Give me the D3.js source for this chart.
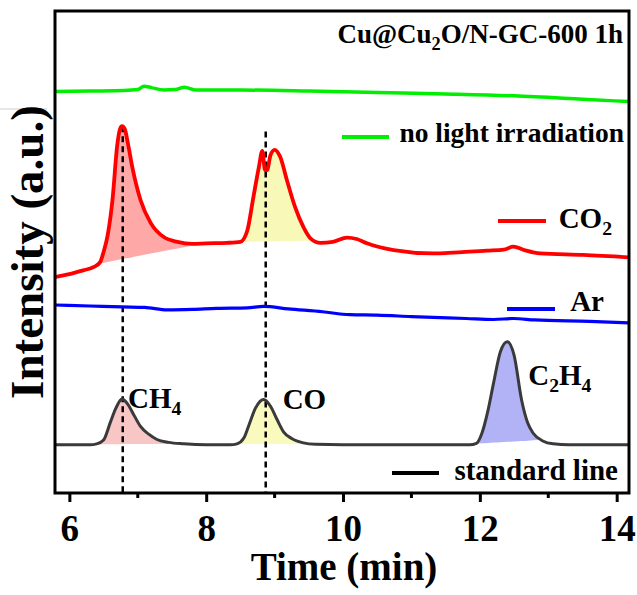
<!DOCTYPE html>
<html>
<head>
<meta charset="utf-8">
<script src="https://cdn.jsdelivr.net/npm/d3@7"></script>
<style>
  body { margin: 0; background: #fff; }
  svg { display: block; }
  text { font-family: "Liberation Serif", "Times New Roman", serif; font-weight: bold; fill: #000; }
</style>
</head>
<body>
<script>
// GC traces, [time (min), intensity (a.u.)]
const noLight = [[5.79, 83.3], [6.3, 83.4], [6.8, 83.5], [7.0, 83.7], [7.09, 84.4], [7.2, 84.1], [7.38, 83.6],
  [7.55, 83.7], [7.68, 84.2], [7.85, 83.6], [8.5, 83.6], [9.5, 83.4], [10.5, 83.1], [11.5, 82.8],
  [12.5, 82.4], [13.5, 81.7], [14.18, 81.2]];

const co2 = [[5.79, 44.8], [6.0, 45.4], [6.2, 46.2], [6.36, 46.9], [6.45, 47.9], [6.5, 50.0], [6.56, 53.5],
  [6.63, 60.8], [6.7, 72.2], [6.74, 75.5], [6.77, 76.1], [6.81, 75.5], [6.86, 72.2], [6.92, 67.6],
  [7.04, 60.8], [7.19, 56.0], [7.38, 53.1], [7.58, 52.1], [7.8, 51.7], [8.0, 51.8], [8.3, 51.9],
  [8.5, 52.1], [8.6, 54.4], [8.69, 61.4], [8.77, 67.6], [8.82, 71.0], [8.86, 67.0], [8.89, 67.0],
  [8.94, 70.1], [9.0, 71.2], [9.08, 69.8], [9.18, 64.9], [9.3, 59.3], [9.42, 55.2], [9.52, 52.9],
  [9.67, 51.9], [9.85, 52.1], [10.06, 53.0], [10.2, 52.7], [10.35, 51.8], [10.74, 50.4], [11.32, 49.7],
  [12.1, 50.3], [12.35, 50.5], [12.49, 51.1], [12.65, 50.4], [12.88, 49.7], [13.51, 49.4], [14.18, 48.9]];

const ar = [[5.79, 39.0], [6.3, 38.8], [6.77, 38.6], [7.1, 38.5], [7.43, 38.0], [7.8, 38.1], [8.15, 38.3],
  [8.6, 38.4], [8.84, 38.7], [9.2, 38.2], [9.7, 37.6], [10.1, 37.0], [10.5, 36.9], [11.0, 36.6],
  [11.8, 36.2], [12.2, 36.0], [12.49, 36.2], [12.8, 35.9], [13.6, 35.6], [14.18, 35.3]];

const standard = [[5.79, 10.0], [6.3, 10.0], [6.4, 10.2], [6.5, 11.0], [6.6, 14.7], [6.68, 17.6], [6.77, 19.5],
  [6.86, 18.3], [6.95, 16.0], [7.04, 13.8], [7.16, 12.2], [7.28, 11.1], [7.45, 10.5], [7.67, 10.2],
  [8.0, 10.0], [8.35, 10.0], [8.45, 10.2], [8.55, 11.4], [8.62, 13.9], [8.72, 17.6], [8.84, 19.4],
  [8.94, 18.0], [9.03, 15.4], [9.13, 12.7], [9.25, 11.3], [9.42, 10.4], [9.6, 10.1], [10.0, 10.0],
  [11.85, 10.0], [11.95, 10.3], [12.03, 12.4], [12.12, 17.2], [12.2, 22.8], [12.3, 29.3], [12.4, 31.4],
  [12.5, 28.6], [12.61, 19.3], [12.7, 14.5], [12.78, 12.4], [12.92, 10.8], [13.07, 10.2], [13.3, 10.0],
  [14.18, 10.0]];

// shaded peak windows [from, to]
const co2Peaks = [[6.42, 7.96], [8.5, 9.6]];
const standardPeaks = [[6.36, 7.7], [8.43, 9.55], [11.93, 12.9]];

// dashed guides at CH4 / CO retention times
const markerTimes = [6.78, 8.87];
const markerTops = [76.1, 75.0];

const peakNames = ["CH_4", "CO", "C_2H_4"];
const peakTimes = [6.77, 8.84, 12.4];
const xTicks = [6, 8, 10, 12, 14];
const minorTicks = [7, 9, 11, 13];
const legendNames = ["no light irradiation", "CO_2", "Ar", "standard line"];

const width = 637, height = 595;
const margin = { top: 11, right: 8, bottom: 102, left: 55 };

const x = d3.scaleLinear().domain([5.79, 14.18]).range([margin.left, width - margin.right]);
const y = d3.scaleLinear().domain([0, 100]).range([height - margin.bottom, margin.top]);

const svg = d3.select("body").append("svg").attr("width", width).attr("height", height);

// text with "_x" subscripts
function subText(sel, str, size) {
  const parts = str.split(/(_\d)/).filter(p => p);
  let down = false;
  parts.forEach(p => {
    if (p[0] === "_") {
      sel.append("tspan").attr("dy", size * 0.25).style("font-size", (size * 0.68) + "px").text(p.slice(1));
      down = true;
    } else {
      sel.append("tspan").attr("dy", down ? -size * 0.25 : null).text(p);
      down = false;
    }
  });
}

function valueAt(data, t) {
  const i = d3.bisector(d => d[0]).left(data, t);
  if (i <= 0) return data[0][1];
  if (i >= data.length) return data[data.length - 1][1];
  const a = data[i - 1], b = data[i];
  return a[1] + (b[1] - a[1]) * (t - a[0]) / (b[0] - a[0]);
}

// faint stray rule at the far left
svg.append("line").attr("x1", 0).attr("x2", 47).attr("y1", 109).attr("y2", 109)
  .attr("stroke", "#cfcfcf").attr("stroke-width", 1);

const line = d3.line().x(d => x(d[0])).y(d => y(d[1])).curve(d3.curveMonotoneX);

function shade(data, windows, colors) {
  windows.forEach((w, k) => {
    const v0 = valueAt(data, w[0]), v1 = valueAt(data, w[1]);
    const pts = [[w[0], v0]].concat(data.filter(d => d[0] > w[0] && d[0] < w[1]), [[w[1], v1]]);
    const base = t => v0 + (v1 - v0) * (t - w[0]) / (w[1] - w[0]);
    svg.append("path")
      .datum(pts)
      .attr("fill", colors[k])
      .attr("d", d3.area().x(d => x(d[0])).y0(d => y(base(d[0]))).y1(d => y(d[1])).curve(d3.curveMonotoneX));
  });
}

shade(co2, co2Peaks, ["#ffa8a8", "#f8f8b8"]);
shade(standard, standardPeaks, ["#f9c6c6", "#fafabf", "#b2b2f6"]);

// dashed guides
svg.selectAll(".guide")
  .data(markerTimes)
  .enter().append("line")
  .attr("x1", d => x(d)).attr("x2", d => x(d))
  .attr("y1", (d, i) => y(markerTops[i])).attr("y2", y(0))
  .attr("stroke", "#000").attr("stroke-width", 2.5).attr("stroke-dasharray", "6,4");

const series = [
  { data: noLight, color: "#00ee00", w: 3.5 },
  { data: co2, color: "#ff0000", w: 3.8 },
  { data: ar, color: "#0000ff", w: 3.2 },
  { data: standard, color: "#3a3a3a", w: 3 }
];
series.forEach(s => {
  svg.append("path").datum(s.data)
    .attr("fill", "none").attr("stroke", s.color).attr("stroke-width", s.w)
    .attr("stroke-linejoin", "round").attr("d", line);
});

// peak labels
const labelDx = [6, 19, 21];
const labelY = [408, 409, 385];
peakNames.forEach((n, i) => {
  const t = svg.append("text").attr("x", x(peakTimes[i]) + labelDx[i]).attr("y", labelY[i]).style("font-size", "29px");
  subText(t, n, 29);
});

// legend (text right-aligned)
const legendColors = ["#00ee00", "#ff0000", "#0000ff", "#000"];
const legendPos = [
  { x1: 342, x2: 389, ly: 137, tx: 624, ty: 142, fs: 27.5 },
  { x1: 498, x2: 546, ly: 221, tx: 612, ty: 228, fs: 29 },
  { x1: 507, x2: 555, ly: 309, tx: 604, ty: 311, fs: 29 },
  { x1: 392, x2: 439, ly: 473, tx: 618, ty: 480, fs: 29 }
];
legendNames.forEach((n, i) => {
  const p = legendPos[i];
  svg.append("line").attr("x1", p.x1).attr("x2", p.x2).attr("y1", p.ly).attr("y2", p.ly)
    .attr("stroke", legendColors[i]).attr("stroke-width", 4);
  const t = svg.append("text").attr("x", p.tx).attr("y", p.ty).attr("text-anchor", "end").style("font-size", p.fs + "px");
  subText(t, n, p.fs);
});

// title
const title = svg.append("text").attr("x", 623).attr("y", 43).attr("text-anchor", "end").style("font-size", "27px");
subText(title, "Cu@Cu_2O/N-GC-600 1h", 27);

// x axis
const xAxis = svg.append("g")
  .attr("transform", `translate(0,${y(0)})`)
  .call(d3.axisBottom(x).tickValues(xTicks).tickSize(9).tickSizeOuter(0).tickFormat(d3.format("d")));
xAxis.select(".domain").remove();
xAxis.selectAll(".tick line").attr("stroke", "#000").attr("stroke-width", 3);
xAxis.selectAll(".tick text").attr("y", 48).attr("dy", null)
  .style("font-size", "37px").style("font-family", "'Liberation Serif', 'Times New Roman', serif").style("font-weight", "bold");

svg.selectAll(".minor")
  .data(minorTicks)
  .enter().append("line")
  .attr("x1", d => x(d)).attr("x2", d => x(d))
  .attr("y1", y(0)).attr("y2", y(0) + 5)
  .attr("stroke", "#000").attr("stroke-width", 3);

// frame
svg.append("rect")
  .attr("x", margin.left).attr("y", margin.top)
  .attr("width", width - margin.left - margin.right)
  .attr("height", height - margin.top - margin.bottom)
  .attr("fill", "none").attr("stroke", "#000").attr("stroke-width", 3);

// axis titles
svg.append("text")
  .attr("x", 344).attr("y", 580)
  .attr("text-anchor", "middle")
  .style("font-size", "39px")
  .text("Time (min)");

svg.append("text")
  .attr("transform", "translate(43,252) rotate(-90)")
  .attr("text-anchor", "middle")
  .style("font-size", "47px")
  .text("Intensity (a.u.)");
</script>
</body>
</html>
